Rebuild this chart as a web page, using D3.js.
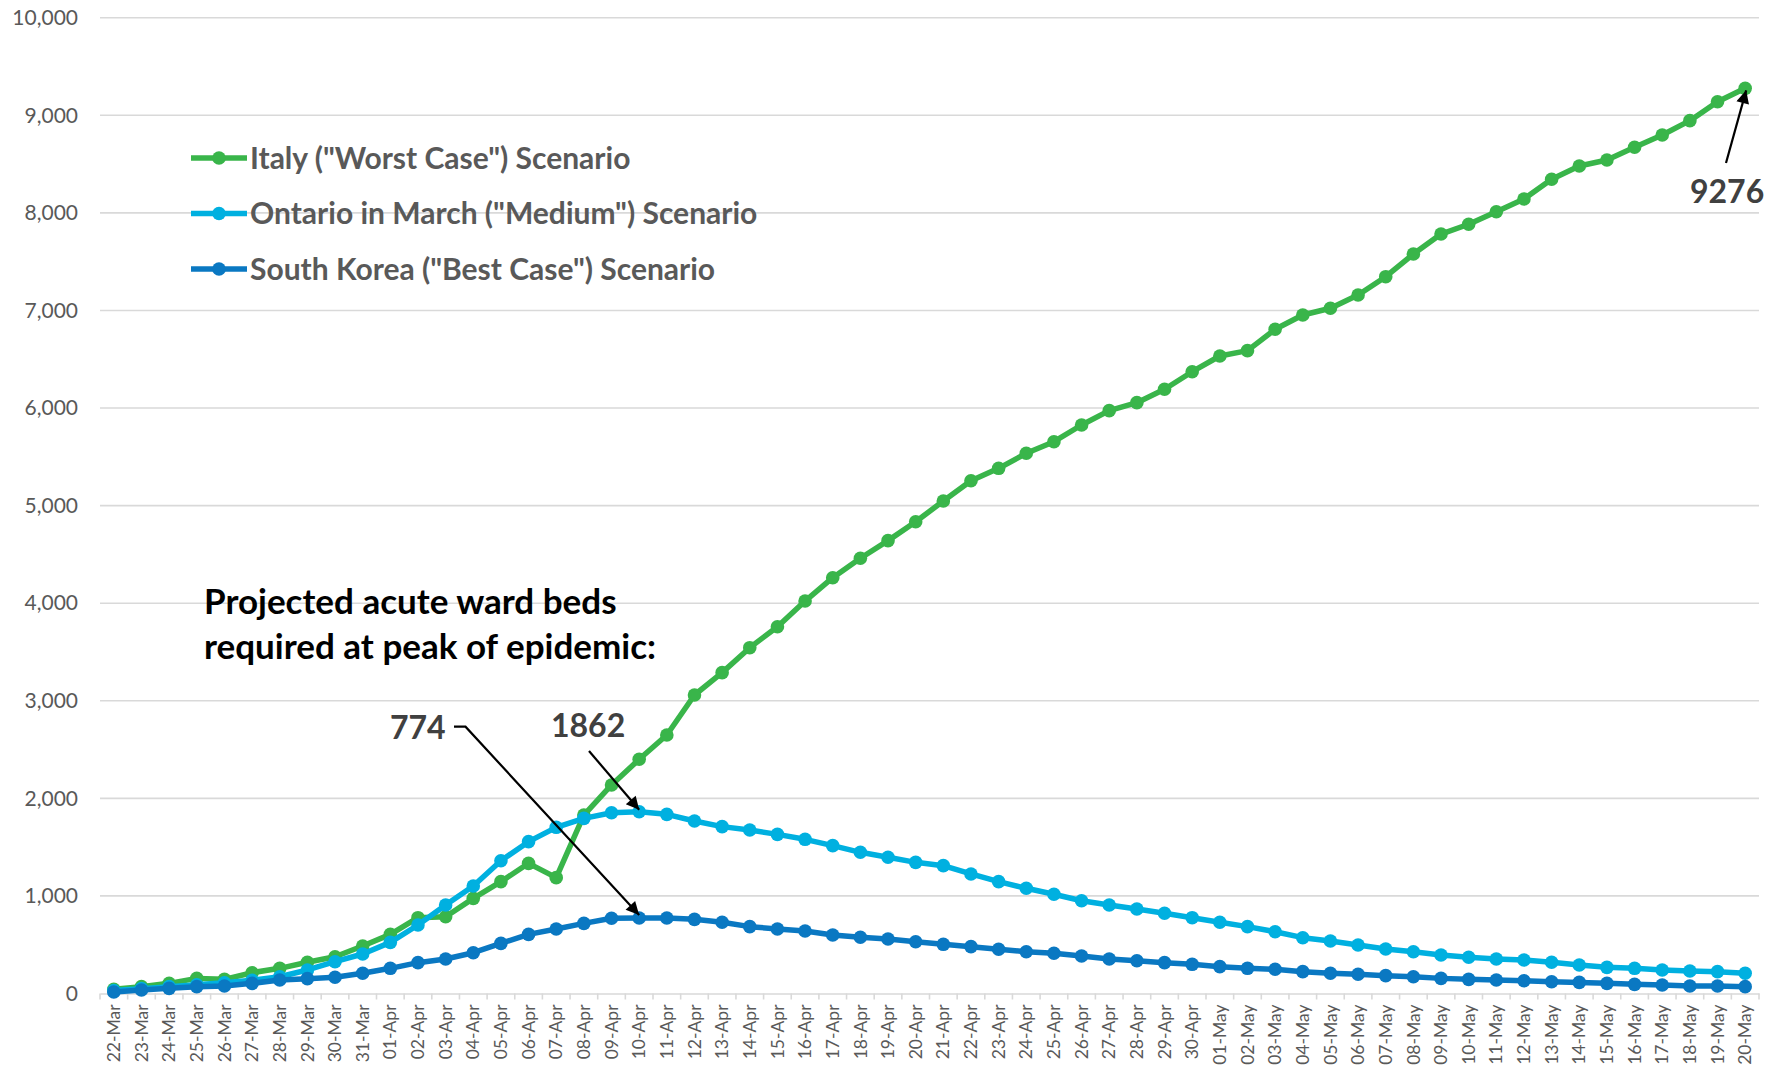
<!DOCTYPE html>
<html>
<head>
<meta charset="utf-8">
<script src="https://cdn.jsdelivr.net/npm/d3@7"></script>
<style>
  body { margin: 0; background: #fff; }
  svg { display: block; font-family: Lato, 'Open Sans', sans-serif; }
</style>
</head>
<body>
<svg id="chart" width="1783" height="1065"></svg>
<script>
// Projected acute ward beds - 3 scenarios

const dates = [
  '22-Mar', '23-Mar', '24-Mar', '25-Mar', '26-Mar', '27-Mar', '28-Mar', '29-Mar', '30-Mar', '31-Mar',
  '01-Apr', '02-Apr', '03-Apr', '04-Apr', '05-Apr', '06-Apr', '07-Apr', '08-Apr', '09-Apr', '10-Apr',
  '11-Apr', '12-Apr', '13-Apr', '14-Apr', '15-Apr', '16-Apr', '17-Apr', '18-Apr', '19-Apr', '20-Apr',
  '21-Apr', '22-Apr', '23-Apr', '24-Apr', '25-Apr', '26-Apr', '27-Apr', '28-Apr', '29-Apr', '30-Apr',
  '01-May', '02-May', '03-May', '04-May', '05-May', '06-May', '07-May', '08-May', '09-May', '10-May',
  '11-May', '12-May', '13-May', '14-May', '15-May', '16-May', '17-May', '18-May', '19-May', '20-May'
];

const italy = [
  43, 70, 104, 155, 145, 213, 258, 320, 377, 487,
  606, 777, 787, 975, 1146, 1334, 1187, 1829, 2137, 2400,
  2649, 3059, 3288, 3544, 3759, 4022, 4261, 4460, 4641, 4835,
  5047, 5255, 5382, 5536, 5655, 5826, 5973, 6055, 6192, 6372,
  6533, 6588, 6807, 6953, 7022, 7158, 7346, 7578, 7783, 7883,
  8012, 8142, 8344, 8480, 8542, 8672, 8798, 8945, 9139, 9276
];

const ontario = [
  30, 50, 70, 90, 110, 135, 172, 241, 326, 405,
  524, 702, 907, 1102, 1361, 1556, 1703, 1795, 1853, 1862,
  1836, 1768, 1710, 1675, 1631, 1580, 1515, 1447, 1396, 1344,
  1310, 1225, 1146, 1078, 1017, 951, 907, 866, 822, 777,
  730, 685, 633, 572, 538, 497, 456, 428, 395, 371,
  354, 343, 320, 292, 268, 258, 241, 231, 224, 207
];

const korea = [
  15, 36, 53, 70, 77, 104, 138, 152, 166, 207,
  258, 316, 354, 418, 514, 606, 661, 719, 771, 774,
  774, 760, 730, 685, 661, 640, 600, 576, 558, 531,
  504, 480, 453, 428, 412, 384, 354, 336, 316, 299,
  275, 258, 248, 224, 207, 197, 183, 172, 155, 145,
  138, 131, 121, 114, 104, 94, 87, 77, 77, 70
];

const yTicks = [0, 1000, 2000, 3000, 4000, 5000, 6000, 7000, 8000, 9000, 10000];

const seriesNames = [
  'Italy ("Worst Case") Scenario',
  'Ontario in March ("Medium") Scenario',
  'South Korea ("Best Case") Scenario'
];
const seriesColors = ['#39B54A', '#00B0E0', '#0A78C2'];

const series = [italy, ontario, korea].map((values, i) => ({
  name: seriesNames[i],
  color: seriesColors[i],
  points: values.map((v, j) => ({ date: dates[j], value: v }))
}));

const svg = d3.select('#chart');
const plot = { left: 100, right: 1759, top: 17.7, bottom: 993.5 };

const xBand = d3.scaleBand()
  .domain(dates)
  .range([plot.left, plot.right])
  .padding(0);
const xPos = d => xBand(d) + xBand.bandwidth() / 2;

const yScale = d3.scaleLinear()
  .domain([0, 10000])
  .range([plot.bottom, plot.top]);

// gridlines
svg.append('g')
  .selectAll('line')
  .data(yTicks.slice(1))
  .enter()
  .append('line')
  .attr('x1', plot.left)
  .attr('x2', plot.right)
  .attr('y1', d => yScale(d))
  .attr('y2', d => yScale(d))
  .attr('stroke', '#d9d9d9')
  .attr('stroke-width', 1.6);

// y axis labels
const yAxis = svg.append('g')
  .attr('transform', `translate(${plot.left},0)`)
  .call(d3.axisLeft(yScale).tickValues(yTicks).tickSize(0).tickPadding(22).tickFormat(d3.format(',')));
yAxis.select('.domain').remove();
yAxis.selectAll('text')
  .attr('font-family', 'Lato, sans-serif')
  .attr('font-size', '21px')
  .attr('fill', '#595959');

// x axis
const xAxis = svg.append('g')
  .attr('transform', `translate(0,${plot.bottom})`)
  .call(d3.axisBottom(xBand).tickSize(0).tickPadding(0));
xAxis.select('.domain')
  .attr('stroke', '#d9d9d9')
  .attr('stroke-width', 1.6);
xAxis.selectAll('text')
  .attr('font-family', 'Lato, sans-serif')
  .attr('font-size', '17.5px')
  .attr('fill', '#595959')
  .attr('text-anchor', 'end')
  .attr('transform', 'rotate(-90)')
  .attr('x', -11)
  .attr('y', 0)
  .attr('dy', '0.35em');

// tick marks at category boundaries
svg.append('g')
  .selectAll('line')
  .data(dates.concat(['__end']))
  .enter()
  .append('line')
  .attr('x1', (d, i) => plot.left + i * xBand.bandwidth())
  .attr('x2', (d, i) => plot.left + i * xBand.bandwidth())
  .attr('y1', plot.bottom)
  .attr('y2', plot.bottom + 6)
  .attr('stroke', '#d9d9d9')
  .attr('stroke-width', 1.6);

// lines + markers
const line = d3.line()
  .x(d => xPos(d.date))
  .y(d => yScale(d.value));

series.forEach(s => {
  const g = svg.append('g');
  g.append('path')
    .datum(s.points)
    .attr('d', line)
    .attr('fill', 'none')
    .attr('stroke', s.color)
    .attr('stroke-width', 5.5)
    .attr('stroke-linejoin', 'round');
  g.selectAll('circle')
    .data(s.points)
    .enter()
    .append('circle')
    .attr('cx', d => xPos(d.date))
    .attr('cy', d => yScale(d.value))
    .attr('r', 6.8)
    .attr('fill', s.color);
});

// legend
const legend = svg.append('g');
series.forEach((s, i) => {
  const y = 158 + i * 55.5;
  legend.append('line')
    .attr('x1', 191).attr('x2', 247)
    .attr('y1', y).attr('y2', y)
    .attr('stroke', s.color)
    .attr('stroke-width', 5.5);
  legend.append('circle')
    .attr('cx', 219).attr('cy', y).attr('r', 6.8)
    .attr('fill', s.color);
  legend.append('text')
    .attr('x', 250)
    .attr('y', y)
    .attr('dy', '0.35em')
    .attr('font-size', '30px')
    .attr('font-weight', 'bold')
    .attr('fill', '#595959')
    .text(s.name);
});

// annotations
svg.append('defs').append('marker')
  .attr('id', 'arrow')
  .attr('viewBox', '0 0 10 10')
  .attr('refX', 10)
  .attr('refY', 5)
  .attr('markerWidth', 16)
  .attr('markerHeight', 13)
  .attr('markerUnits', 'userSpaceOnUse')
  .attr('orient', 'auto')
  .append('path')
  .attr('d', 'M0,0 L10,5 L0,10 Z')
  .attr('fill', '#000');

const note = svg.append('text')
  .attr('x', 204)
  .attr('y', 614)
  .attr('font-size', '35px')
  .attr('font-weight', 'bold')
  .attr('fill', '#000');
note.append('tspan').attr('x', 204).text('Projected acute ward beds');
note.append('tspan').attr('x', 204).attr('dy', 45).text('required at peak of epidemic:');

const peakIdx = 19; // 10-Apr
const last = dates.length - 1;

svg.append('text')
  .attr('x', 390).attr('y', 739)
  .attr('font-size', '32px').attr('font-weight', 'bold').attr('fill', '#404040')
  .text(korea[peakIdx]);
svg.append('path')
  .attr('d', `M454,726.7 L465.5,726.7 L${xPos(dates[peakIdx])},${yScale(korea[peakIdx]) - 3}`)
  .attr('fill', 'none')
  .attr('stroke', '#000')
  .attr('stroke-width', 2.2)
  .attr('marker-end', 'url(#arrow)');

svg.append('text')
  .attr('x', 551).attr('y', 737)
  .attr('font-size', '32px').attr('font-weight', 'bold').attr('fill', '#404040')
  .text(ontario[peakIdx]);
svg.append('line')
  .attr('x1', 589).attr('y1', 751)
  .attr('x2', xPos(dates[peakIdx])).attr('y2', yScale(ontario[peakIdx]) - 2)
  .attr('stroke', '#000')
  .attr('stroke-width', 2.2)
  .attr('marker-end', 'url(#arrow)');

svg.append('text')
  .attr('x', 1690).attr('y', 203)
  .attr('font-size', '32px').attr('font-weight', 'bold').attr('fill', '#404040')
  .text(italy[last]);
svg.append('line')
  .attr('x1', 1726).attr('y1', 163)
  .attr('x2', xPos(dates[last]) + 1).attr('y2', yScale(italy[last]) + 2)
  .attr('stroke', '#000')
  .attr('stroke-width', 2.2)
  .attr('marker-end', 'url(#arrow)');
</script>
</body>
</html>
